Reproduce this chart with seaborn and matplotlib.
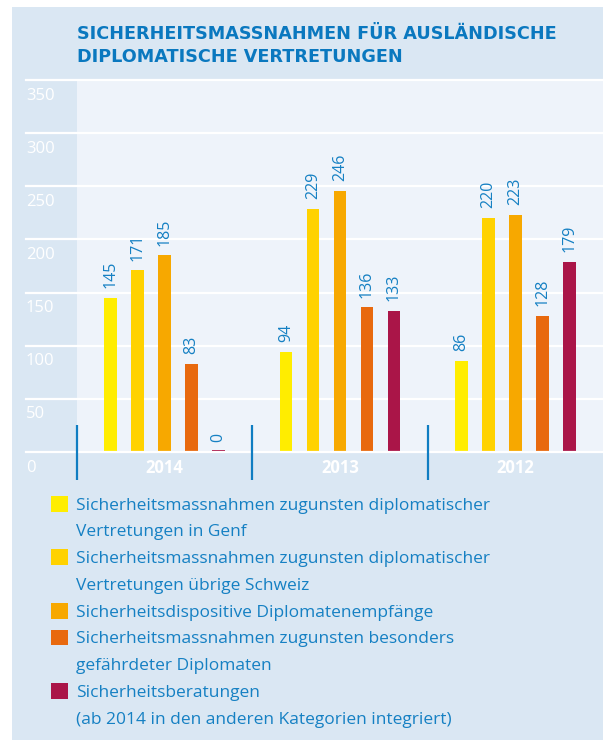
import matplotlib
matplotlib.use("Agg")
import matplotlib.pyplot as plt
import seaborn as sns
import pandas as pd
from matplotlib.patches import Rectangle, Patch
from matplotlib.transforms import blended_transform_factory

# ---------------- data ----------------
years = ["2014", "2013", "2012"]
categories = [
    "Genf",
    "Übrige Schweiz",
    "Diplomatenempfänge",
    "Gefährdete Diplomaten",
    "Sicherheitsberatungen",
]
genf = [145, 94, 86]
uebrige = [171, 229, 220]
empfaenge = [185, 246, 223]
gefaehrdet = [83, 136, 128]
beratungen = [0, 133, 179]
yticks = [0, 50, 100, 150, 200, 250, 300, 350]
title_lines = ["SICHERHEITSMASSNAHMEN FÜR AUSLÄNDISCHE",
               "DIPLOMATISCHE VERTRETUNGEN"]
legend_lines = [
    ["Sicherheitsmassnahmen zugunsten diplomatischer", "Vertretungen in Genf"],
    ["Sicherheitsmassnahmen zugunsten diplomatischer", "Vertretungen übrige Schweiz"],
    ["Sicherheitsdispositive Diplomatenempfänge"],
    ["Sicherheitsmassnahmen zugunsten besonders", "gefährdeter Diplomaten"],
    ["Sicherheitsberatungen", "(ab 2014 in den anderen Kategorien integriert)"],
]
colors = ["#ffed00", "#ffd200", "#f7a800", "#e8690e", "#aa1548"]

series = [genf, uebrige, empfaenge, gefaehrdet, beratungen]
rows = []
for cat, vals in zip(categories, series):
    for yr, v in zip(years, vals):
        rows.append({"year": yr, "category": cat, "value": v})
df = pd.DataFrame(rows)

# ---------------- style ----------------
plt.rcParams["font.family"] = ["Open Sans", "DejaVu Sans"]
PANEL = "#dae7f3"
PLOT_BG = "#eef3fa"
BLUE = "#1580c3"
TITLE_BLUE = "#0a78bf"

W, H = 603, 740
fig = plt.figure(figsize=(W / 100, H / 100), dpi=100, facecolor="white")
fig.patches.append(Rectangle((12 / W, 0), (W - 12) / W, (H - 7) / H,
                             transform=fig.transFigure, facecolor=PANEL,
                             edgecolor="none", zorder=-10))

ax_left, ax_right, ax_top, ax_bottom = 77, 603, 80, 452
ax = fig.add_axes([ax_left / W, (H - ax_bottom) / H,
                   (ax_right - ax_left) / W, (ax_bottom - ax_top) / H])
ax.set_facecolor(PLOT_BG)
ax.set_zorder(1)

sns.barplot(data=df, x="year", y="value", hue="category", order=years,
            hue_order=categories, palette=colors, width=0.77, gap=0.52,
            saturation=1, legend=False, ax=ax, zorder=3, errorbar=None)

ax.set_xlim(-0.5, 2.5)
ax.set_ylim(0, 350)
for s in ax.spines.values():
    s.set_visible(False)
ax.set_yticks([])
ax.set_xlabel("")
ax.set_ylabel("")
ax.tick_params(axis="x", length=0, pad=5, labelcolor="white", labelsize=12)
for lab in ax.get_xticklabels():
    lab.set_fontweight("bold")

# zero-height bar visible as thin line
for cont, col in zip(ax.containers, colors):
    for p in cont.patches:
        if p.get_height() == 0:
            p.set_edgecolor(col)
            p.set_linewidth(2.8)

# value labels
for cont, vals in zip(ax.containers, series):
    ax.bar_label(cont, labels=[str(v) for v in vals], padding=7, rotation=90,
                 color=BLUE, fontsize=11.5)

# gridlines
ext = (ax_left - 26) / (ax_right - ax_left)
for v in yticks:
    ax.axhline(v, xmin=-ext, xmax=1, color="white", lw=1.6, clip_on=False,
               zorder=4 if v == 0 else 2)

# y labels
trans = blended_transform_factory(fig.transFigure, ax.transData)
for v in yticks:
    ax.annotate(str(v), xy=(26 / W, v), xycoords=trans, xytext=(0, -15.5),
                textcoords="offset pixels", ha="left", va="center",
                color="white", fontsize=12, annotation_clip=False)

# group separators
unit = 350 / (ax_bottom - ax_top)
ax.vlines([-0.5, 0.5, 1.5], -(480 - ax_bottom) * unit, (ax_bottom - 425) * unit,
          colors="#0f7dc2", lw=1.6, clip_on=False, zorder=5)

# title
for line, yb in zip(title_lines, [39, 62]):
    fig.text(77 / W, 1 - yb / H, line, color=TITLE_BLUE, fontsize=12.7,
             fontweight="bold", va="baseline", ha="left",
             family=["DejaVu Sans"])

# legend
handles, labels = [], []
for col, lines in zip(colors, legend_lines):
    for i, line in enumerate(lines):
        if i == 0:
            handles.append(Patch(facecolor=col, edgecolor="none"))
        else:
            handles.append(Patch(facecolor="none", edgecolor="none"))
        labels.append(line)
fig.legend(handles, labels, loc="upper left",
           bbox_to_anchor=(51 / W, 1 - 496 / H), frameon=False, fontsize=12.5,
           handlelength=1.0, handleheight=1.0, handletextpad=0.45,
           labelspacing=0.52, borderpad=0, borderaxespad=0, labelcolor=BLUE)

fig.savefig("out.png", dpi=100, facecolor="white")
